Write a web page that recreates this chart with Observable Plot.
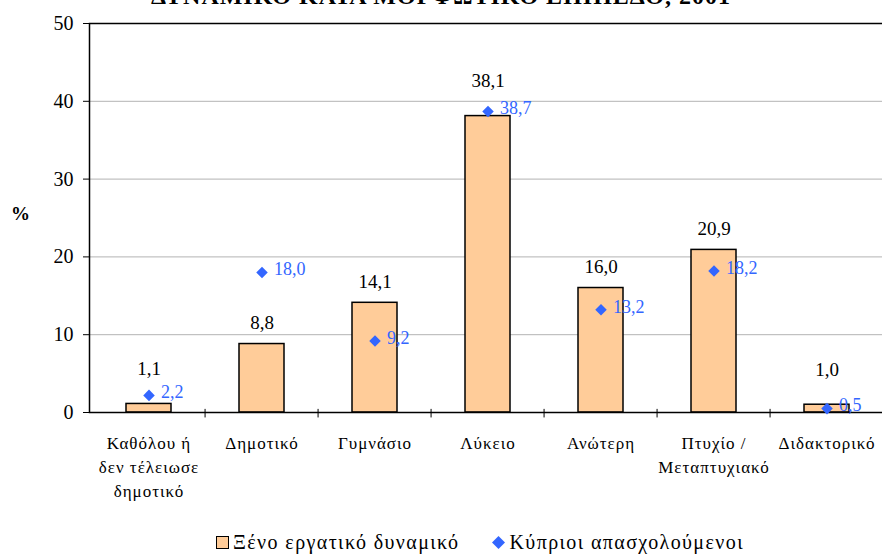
<!DOCTYPE html>
<html>
<head>
<meta charset="utf-8">
<script src="https://cdn.jsdelivr.net/npm/d3@7"></script>
<script src="https://cdn.jsdelivr.net/npm/@observablehq/plot@0.6"></script>
<style>
  body { margin: 0; background: #fff; }
  #wrap { position: relative; width: 882px; height: 554px; overflow: hidden; font-family: "Liberation Serif", serif; }
  #wrap svg text { font-family: "Liberation Serif", serif !important; }
  #title { position: absolute; left: 0; width: 882px; top: -16px; text-align: center; font-weight: bold; font-size: 24px; line-height: 24px; letter-spacing: 1px; color: #000; white-space: nowrap; }
  #pct { position: absolute; left: 11px; top: 203px; font-weight: bold; font-size: 19px; }
  #chart { position: absolute; left: 0; top: 0; }
  #legend { position: absolute; left: 39px; width: 882px; top: 531px; display: flex; justify-content: center; align-items: center; font-size: 20px; letter-spacing: 1.4px; color: #000; }
  .item { display: flex; align-items: center; }
  .sq { width: 13px; height: 13px; background: #FFCC99; border: 1px solid #000; margin-right: 4px; box-sizing: border-box; }
  .tick-x text { letter-spacing: 1px; }
</style>
</head>
<body>
<div id="wrap">
  <div id="chart"></div>
  <div id="title">ΔΥΝΑΜΙΚΟ ΚΑΤΑ ΜΟΡΦΩΤΙΚΟ ΕΠΙΠΕΔΟ, 2001</div>
  <div id="pct">%</div>
  <div id="legend">
    <div class="item"><div class="sq"></div><span>Ξένο εργατικό δυναμικό</span></div>
    <div class="item" style="margin-left:32px"><svg width="13" height="13" style="margin-right:5px"><path d="M6.5,0 L13,6.5 L6.5,13 L0,6.5 Z" fill="#3366ff"/></svg><span>Κύπριοι απασχολούμενοι</span></div>
  </div>
</div>
<script>
const categories = ["Καθόλου ή δεν τέλειωσε δημοτικό", "Δημοτικό", "Γυμνάσιο", "Λύκειο", "Ανώτερη", "Πτυχίο / Μεταπτυχιακό", "Διδακτορικό"];
const tickLabels = ["Καθόλου ή\nδεν τέλειωσε\nδημοτικό", "Δημοτικό", "Γυμνάσιο", "Λύκειο", "Ανώτερη", "Πτυχίο /\nΜεταπτυχιακό", "Διδακτορικό"];
const foreignValues = [1.1, 8.8, 14.1, 38.1, 16.0, 20.9, 1.0];
const cypriotValues = [2.2, 18.0, 9.2, 38.7, 13.2, 18.2, 0.5];
const yTicks = [0, 10, 20, 30, 40, 50];

const data = categories.map((c, i) => ({cat: c, foreign: foreignValues[i], cyprus: cypriotValues[i]}));
const fmt = v => v.toFixed(1).replace(".", ",");
const close = d => Math.abs(d.cyprus - d.foreign) < 1.5;

const W = 882, ML = 89, MR = -4;
const step = (W - ML - MR) / categories.length;

const chart = Plot.plot({
  width: W,
  height: 515,
  marginTop: 23,
  marginLeft: ML,
  marginRight: MR,
  marginBottom: 103,
  style: {fontFamily: "'Liberation Serif', serif", fontSize: "17px", background: "transparent", color: "#000"},
  x: {domain: categories, paddingInner: 0.6, paddingOuter: 0.3},
  y: {domain: [0, 50]},
  marks: [
    Plot.gridY([10, 20, 30, 40], {stroke: "#b3b3b3", strokeOpacity: 1, strokeWidth: 1}),
    Plot.barY(data, {x: "cat", y: "foreign", fill: "#FFCC99", stroke: "#000", strokeWidth: 1.5}),
    Plot.frame({stroke: "#000", strokeWidth: 1.5}),
    Plot.ruleX(categories.slice(1), {x: d => d, dx: -step / 2, y1: -0.7, y2: 0.4, stroke: "#000", strokeWidth: 1}),
    Plot.axisY({ticks: yTicks, tickSize: 6, tickPadding: 10, label: null, fontSize: 20, tickFormat: d => d}),
    Plot.axisX({tickSize: 0, tickPadding: 19, label: null, fontSize: 17, lineHeight: 1.42, className: "tick-x", tickFormat: d => tickLabels[categories.indexOf(d)]}),
    Plot.text(data.filter(d => !close(d)), {x: "cat", y: "foreign", text: d => fmt(d.foreign), dy: -21, fontSize: 19, fill: "#000"}),
    Plot.text(data.filter(close), {x: "cat", y: "foreign", text: d => fmt(d.foreign), dy: -35, fontSize: 19, fill: "#000"}),
    Plot.dot(data, {x: "cat", y: "cyprus", symbol: "diamond2", r: 5.2, fill: "#3366ff", stroke: "none"}),
    Plot.text(data, {x: "cat", y: "cyprus", text: d => fmt(d.cyprus), dx: 12, dy: -3, textAnchor: "start", fontSize: 18, fill: "#3366ff"})
  ]
});
document.getElementById("chart").appendChild(chart);
</script>
</body>
</html>
